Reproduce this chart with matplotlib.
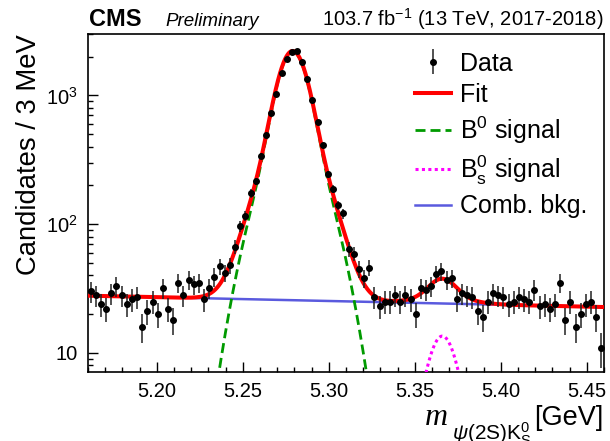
import numpy as np
import matplotlib
matplotlib.use("Agg")
import matplotlib.pyplot as plt
from matplotlib.ticker import FixedLocator, FixedFormatter, MultipleLocator, FormatStrFormatter

plt.rcParams["font.family"] = ["Liberation Sans", "DejaVu Sans"]
plt.rcParams["mathtext.fontset"] = "custom"
plt.rcParams["mathtext.rm"] = "Liberation Sans"
plt.rcParams["mathtext.it"] = "Liberation Sans:italic"
plt.rcParams["mathtext.bf"] = "Liberation Sans:bold"

# Binning of the invariant-mass histogram (GeV)
mass_lo, mass_hi, bin_width = 5.16, 5.46, 0.003

# Candidates per 3 MeV bin
counts = [30, 28, 24, 22, 29, 33, 28, 24, 26, 27,
          16, 21, 25, 20, 32, 22, 18, 35, 28, 37,
          34, 35, 26, 32, 39, 47, 42, 48, 67, 96,
          116, 174, 215, 340, 492, 736, 1031, 1489, 1902, 2174,
          2205, 1818, 1330, 915, 618, 410, 244, 187, 140, 121,
          64, 59, 45, 38, 46, 27, 23, 25, 25, 28,
          25, 28, 26, 20, 32, 31, 33, 41, 43, 37,
          38, 26, 29, 28, 27, 21, 19, 25, 29, 28,
          27, 24, 25, 27, 26, 25, 31, 23, 24, 22,
          24, 35, 18, 25, 16, 20, 24, 25, 19, 11]

# Fit model parameters (per-bin yields)
bkg_at_lo = 27.8          # combinatorial background at the lower edge
bkg_slope = -0.676        # exponential slope (1/GeV)
b0_mean = 5.2790
b0_core_amp, b0_core_sigma = 1720.0, 0.0074
b0_tail_amp, b0_tail_sigma = 470.0, 0.0148
bs_mean = 5.3660
bs_peak = 13.5

x_ticks = [5.20, 5.25, 5.30, 5.35, 5.40, 5.45]
y_ticks = [10, 100, 1000]
y_tick_labels = ["10", r"$\mathregular{10^{2}}$", r"$\mathregular{10^{3}}$"]

counts = np.asarray(counts, dtype=float)
n_bins = len(counts)
centers = mass_lo + bin_width * (np.arange(n_bins) + 0.5)
errors = np.sqrt(counts)


def b0_shape(m, mean):
    return (b0_core_amp * np.exp(-0.5 * ((m - mean) / b0_core_sigma) ** 2)
            + b0_tail_amp * np.exp(-0.5 * ((m - mean) / b0_tail_sigma) ** 2))


mgrid = np.linspace(mass_lo, mass_hi, 1500)
bkg = bkg_at_lo * np.exp(bkg_slope * (mgrid - mass_lo))
b0_sig = b0_shape(mgrid, b0_mean)
bs_sig = b0_shape(mgrid, bs_mean) * bs_peak / (b0_core_amp + b0_tail_amp)
total = bkg + b0_sig + bs_sig

W, H = 610, 441
fig = plt.figure(figsize=(W / 100, H / 100), dpi=100)
ax = fig.add_axes([88 / W, 1 - 372 / H, 516 / W, 338 / H])

blue_line, = ax.plot(mgrid, bkg, color="#5a5ade", lw=1.8, zorder=2)
green_line, = ax.plot(mgrid, b0_sig, color="#009a00", lw=2.0,
                      linestyle=(0, (3.6, 1.8)), zorder=3)
mag_line, = ax.plot(mgrid, bs_sig, color="#ff00ff", lw=2.2,
                    linestyle=(0, (1.0, 1.1)), zorder=3)
red_line, = ax.plot(mgrid, total, color="#ff0000", lw=2.9, zorder=4)
data = ax.errorbar(centers, counts, yerr=errors, fmt="o", color="black",
                   ecolor="#222222", markersize=4, elinewidth=1.1,
                   capsize=0, zorder=5)

ax.set_yscale("log")
ax.set_xlim(mass_lo, mass_hi)
ax.set_ylim(7.1, 3000)

ax.xaxis.set_major_locator(FixedLocator(x_ticks))
ax.xaxis.set_minor_locator(MultipleLocator(0.01))
ax.xaxis.set_major_formatter(FormatStrFormatter("%.2f"))
ax.yaxis.set_major_locator(FixedLocator(y_ticks))
ax.yaxis.set_major_formatter(FixedFormatter(y_tick_labels))

ax.tick_params(which="both", direction="in", top=False, right=False,
               labelsize=14.5, pad=7.5, width=1.0)
ax.tick_params(which="major", length=7)
ax.tick_params(which="minor", length=3.6)
for s in ax.spines.values():
    s.set_linewidth(1.2)

ax.set_ylabel("Candidates / 3 MeV", fontsize=19.7, loc="top")
ax.yaxis.set_label_coords(-0.089, 1.0)

leg = ax.legend([data, red_line, green_line, mag_line, blue_line],
                ["Data", "Fit", r"B$^{0}$ signal",
                 r"B$^{0}_{\mathregular{s}}$ signal", "Comb. bkg."],
                loc="upper left", bbox_to_anchor=(0.633, 0.948),
                frameon=False, fontsize=18, handlelength=1.44,
                handletextpad=0.36, labelspacing=0.30,
                borderpad=0, borderaxespad=0)

# Header
fig.text(89 / W, 1 - 26 / H, "CMS", fontsize=17, fontweight="bold",
         ha="left", va="baseline")
fig.text(165 / W, 1 - 26 / H, "Preliminary", fontsize=13.5, style="italic",
         ha="left", va="baseline")
fig.text(604 / W, 1 - 26 / H, r"103.7 fb$^{-1}$ (13 TeV, 2017-2018)",
         fontsize=14.5, ha="right", va="baseline")

# Axis title built from pieces
fig.text(425 / W, 1 - 425 / H, "m", fontsize=23, family="Liberation Serif",
         style="italic", ha="left", va="baseline")
fig.text(452 / W, 1 - 440 / H, r"$\psi\mathregular{(2S)K}^{0}_{\mathregular{S}}$",
         fontsize=15, ha="left", va="baseline")
fig.text(603 / W, 1 - 425 / H, "[GeV]", fontsize=19.5, ha="right", va="baseline")

fig.savefig("out.png", dpi=100)
